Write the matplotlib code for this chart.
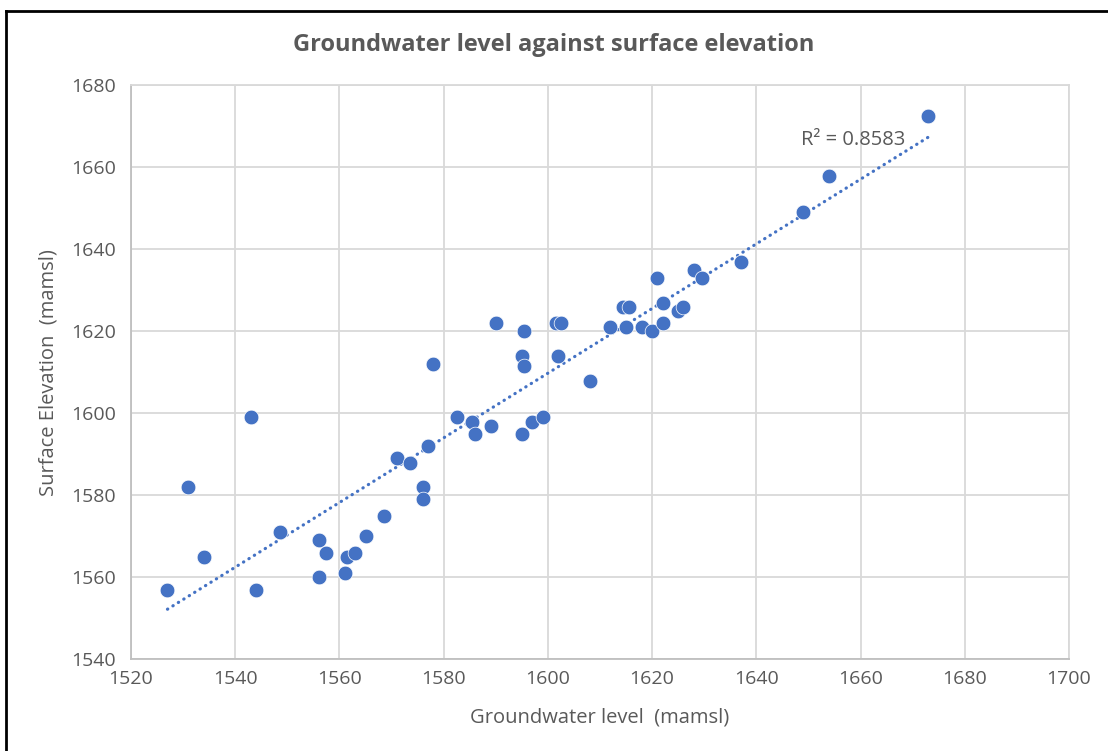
import numpy as np
import matplotlib
matplotlib.use("Agg")
import matplotlib.pyplot as plt

# Data
groundwater = [1527, 1531, 1534, 1543, 1544, 1548.5, 1556, 1556, 1557.5, 1561,
               1561.5, 1563, 1565, 1568.5, 1571, 1573.5, 1576, 1576, 1577, 1578,
               1582.5, 1585.5, 1586, 1589, 1590, 1595, 1595, 1595.5, 1595.5, 1597,
               1599, 1601.5, 1602.5, 1602, 1608, 1612, 1614.5, 1615.5, 1615, 1618,
               1620, 1621, 1622, 1622, 1625, 1626, 1628, 1629.5, 1637, 1649,
               1654, 1673]
surface = [1557, 1582, 1565, 1599, 1557, 1571, 1569, 1560, 1566, 1561,
           1565, 1566, 1570, 1575, 1589, 1588, 1582, 1579, 1592, 1612,
           1599, 1598, 1595, 1597, 1622, 1595, 1614, 1620, 1611.5, 1598,
           1599, 1622, 1622, 1614, 1608, 1621, 1626, 1626, 1621, 1621,
           1620, 1633, 1622, 1627, 1625, 1626, 1635, 1633, 1637, 1649,
           1658, 1672.5]
r2_label = "R² = 0.8583"
x_ticks = [1520, 1540, 1560, 1580, 1600, 1620, 1640, 1660, 1680, 1700]
y_ticks = [1540, 1560, 1580, 1600, 1620, 1640, 1660, 1680]

FONT = ["Open Sans", "DejaVu Sans"]
plt.rcParams['font.family'] = FONT
TXT = "#595959"
BLUE = "#4472C4"
GRID = "#D9D9D9"

W, H = 1108, 751
fig = plt.figure(figsize=(W / 100, H / 100), dpi=100)
ax = fig.add_axes([131 / W, 1 - 659.3 / H, (1069 - 131) / W, (659.3 - 85.3) / H])

ax.set_xlim(1520, 1700)
ax.set_ylim(1540, 1680)
ax.set_xticks(x_ticks)
ax.set_yticks(y_ticks)
ax.grid(True, color=GRID, linewidth=1.3)
ax.set_axisbelow(True)
for s in ["top", "right"]:
    ax.spines[s].set_color(GRID)
    ax.spines[s].set_linewidth(1.3)
for s in ["left", "bottom"]:
    ax.spines[s].set_color("#BFBFBF")
    ax.spines[s].set_linewidth(1.3)
ax.tick_params(length=0, colors=TXT, labelsize=14)
ax.tick_params(axis="y", pad=11)
ax.tick_params(axis="x", pad=8)

ax.scatter(groundwater, surface, s=112, color=BLUE, edgecolors="white",
           linewidths=0.5, zorder=3)

# linear trendline
gx = np.array(groundwater)
gy = np.array(surface)
m, b = np.polyfit(gx, gy, 1)
tx = np.array([gx.min(), gx.max()])
ax.plot(tx, m * tx + b, linestyle=(0, (0.1, 1.9)), color=BLUE, linewidth=2.3,
        dash_capstyle="round", zorder=2)
ax.text(1668.6, 1666.7, r2_label, ha="right", va="center", fontsize=14.5, color=TXT)

ax.set_xlabel("Groundwater level  (mamsl)", fontsize=14.5, color=TXT)
ax.xaxis.set_label_coords(0.5, (659.3 - 717) / 574, transform=ax.transAxes)
ax.set_ylabel("Surface Elevation  (mamsl)", fontsize=14.5, color=TXT)
ax.yaxis.set_label_coords((49 - 131) / 938, 0.5, transform=ax.transAxes)
for lab in (ax.xaxis.label, ax.yaxis.label):
    lab.set_va("center")

fig.text(0.5, 1 - 45 / H, "Groundwater level against surface elevation",
         ha="center", va="center", fontsize=17, fontweight="bold", color=TXT)

# outer frame (left and top edges)
fig.add_artist(plt.Line2D([6 / W, 6 / W], [0, 1 - 11 / H], color="black",
                          linewidth=2, transform=fig.transFigure))
fig.add_artist(plt.Line2D([6 / W, 1], [1 - 11 / H, 1 - 11 / H], color="black",
                          linewidth=2, transform=fig.transFigure))

fig.savefig("out.png", dpi=100)
